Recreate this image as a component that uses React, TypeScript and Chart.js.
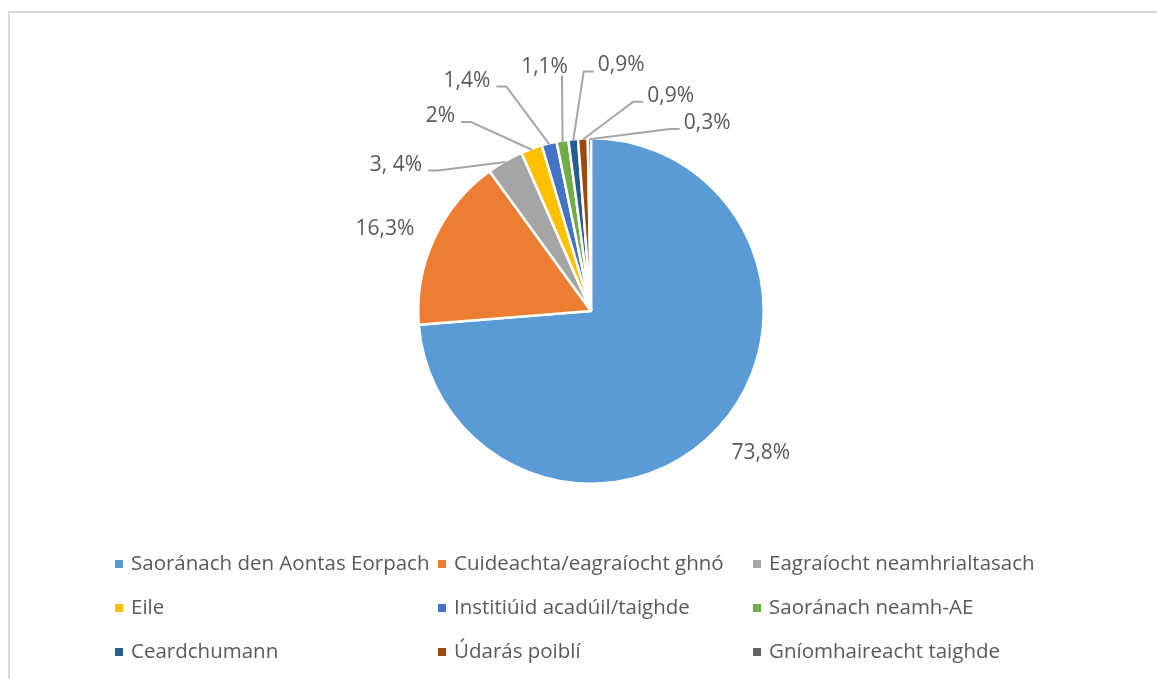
import React, { useEffect, useRef } from "react";
import { Chart, registerables } from "chart.js";

Chart.register(...registerables);

const categories = [
  "Saoránach den Aontas Eorpach",
  "Cuideachta/eagraíocht ghnó",
  "Eagraíocht neamhrialtasach",
  "Eile",
  "Institiúid acadúil/taighde",
  "Saoránach neamh-AE",
  "Ceardchumann",
  "Údarás poiblí",
  "Gníomhaireacht taighde",
];
const shares = [73.8, 16.3, 3.4, 2, 1.4, 1.1, 0.9, 0.9, 0.3, 0];
const shareLabels = ["73,8%", "16,3%", "3, 4%", "2%", "1,4%", "1,1%", "0,9%", "0,9%", "0,3%", ""];
const colors = [
  "#5B9BD5",
  "#ED7D31",
  "#A5A5A5",
  "#FFC000",
  "#4472C4",
  "#70AD47",
  "#255E91",
  "#9E480E",
  "#636363",
];

// label placement: angle (deg, clockwise from top), distance as multiple of radius, leader style
const labelPlacement = [
  { angle: 130.0, dist: 1.283, leader: "none" },
  { angle: 291.7, dist: 1.284, leader: "none" },
  { angle: 306.9, dist: 1.412, leader: "right" },
  { angle: 322.3, dist: 1.426, leader: "right" },
  { angle: 331.7, dist: 1.515, leader: "right" },
  { angle: 349.2, dist: 1.435, leader: "down" },
  { angle: 7.0, dist: 1.432, leader: "left" },
  { angle: 20.3, dist: 1.329, leader: "left" },
  { angle: 31.7, dist: 1.279, leader: "left" },
  { angle: 0, dist: 1, leader: "none" },
];

const FONT = "'Open Sans', 'Noto Sans', sans-serif";
const TEXT_COLOR = "#595959";

const decorPlugin = {
  id: "decor",
  afterDraw(chart: any) {
    const ctx = chart.ctx as CanvasRenderingContext2D;
    const meta = chart.getDatasetMeta(0);
    ctx.save();
    // outer frame
    ctx.strokeStyle = "#D9D9D9";
    ctx.lineWidth = 2;
    ctx.beginPath();
    ctx.moveTo(9, 680);
    ctx.lineTo(9, 12);
    ctx.lineTo(1160, 12);
    ctx.stroke();

    // data labels
    ctx.font = `21px ${FONT}`;
    ctx.fillStyle = TEXT_COLOR;
    ctx.textAlign = "center";
    ctx.textBaseline = "middle";
    meta.data.forEach((arc: any, i: number) => {
      const txt = shareLabels[i];
      if (!txt) return;
      const p = labelPlacement[i];
      const { x, y, startAngle, endAngle, outerRadius } = arc.getProps(
        ["x", "y", "startAngle", "endAngle", "outerRadius"],
        true
      );
      const a = (p.angle * Math.PI) / 180;
      const tx = x + Math.sin(a) * outerRadius * p.dist;
      const ty = y - Math.cos(a) * outerRadius * p.dist;
      ctx.fillStyle = TEXT_COLOR;
      ctx.fillText(txt, tx, ty);
      if (p.leader === "none") return;
      const w = ctx.measureText(txt).width;
      const mid = (startAngle + endAngle) / 2;
      const ex = x + Math.cos(mid) * (outerRadius - 1);
      const ey = y + Math.sin(mid) * (outerRadius - 1);
      ctx.strokeStyle = "#A6A6A6";
      ctx.lineWidth = 2;
      ctx.beginPath();
      if (p.leader === "right") {
        const sx = tx + w / 2 + 6;
        const sy = ty + 6;
        ctx.moveTo(sx, sy);
        ctx.lineTo(sx + 10, sy);
        ctx.lineTo(ex, ey);
      } else if (p.leader === "left") {
        const sx = tx - w / 2 - 4;
        const sy = ty + 6;
        ctx.moveTo(sx, sy);
        ctx.lineTo(sx - 10, sy);
        ctx.lineTo(ex, ey);
      } else {
        const sx = tx + w / 2 - 6;
        const sy = ty + 8;
        ctx.moveTo(sx, sy);
        ctx.lineTo(ex, ey);
      }
      ctx.stroke();
    });

    // legend (3 columns)
    const colMarkerX = [115, 438, 753];
    const rowY = [564, 608, 652];
    ctx.font = `20.5px ${FONT}`;
    ctx.textAlign = "left";
    ctx.textBaseline = "middle";
    categories.forEach((name, i) => {
      const c = i % 3;
      const r = Math.floor(i / 3);
      const mx = colMarkerX[c];
      const my = rowY[r];
      ctx.fillStyle = colors[i];
      ctx.fillRect(mx, my - 4, 8, 8);
      ctx.fillStyle = TEXT_COLOR;
      ctx.fillText(name, mx + 16, my);
    });
    ctx.restore();
  },
};

export default function App() {
  const ref = useRef<HTMLCanvasElement | null>(null);
  useEffect(() => {
    if (!ref.current) return;
    const chart = new Chart(ref.current, {
      type: "pie",
      data: {
        labels: [...categories, ""],
        datasets: [
          {
            data: shares,
            backgroundColor: [...colors, "#636363"],
            borderColor: "#FFFFFF",
            borderWidth: 2.5,
          },
        ],
      },
      options: {
        animation: false,
        responsive: false,
        maintainAspectRatio: false,
        layout: { padding: { left: 417, right: 392, top: 137, bottom: 194 } },
        plugins: {
          legend: { display: false },
          tooltip: { enabled: false },
        },
      },
      plugins: [decorPlugin],
    });
    return () => chart.destroy();
  }, []);
  return (
    <div style={{ position: "fixed", left: 0, top: 0, width: 1157, height: 679, background: "#FFFFFF" }}>
      <canvas ref={ref} width={1157} height={679} style={{ width: 1157, height: 679 }} />
    </div>
  );
}
